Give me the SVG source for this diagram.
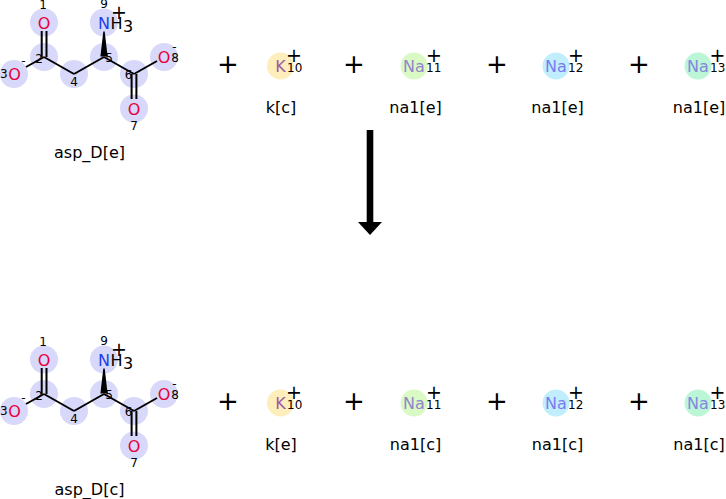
<svg xmlns="http://www.w3.org/2000/svg" width="726" height="499" viewBox="0 0 726 499">
<style>
text{font-family:"DejaVu Sans",Verdana,sans-serif}
.hl{fill:#d8d8fa}
.b{stroke:#000;stroke-width:2;fill:none;stroke-linecap:butt}
.O{fill:#e6003c;font-size:16px;text-anchor:middle}
.N{fill:#2040f0;font-size:16px;text-anchor:middle}
.H{fill:#000;font-size:16px}
.idx{font-size:12px;fill:#000;text-anchor:middle}
.idxs{font-size:12px;fill:#000}
.chg{font-size:19px;text-anchor:middle;fill:#000}
.neg{font-size:12px;text-anchor:middle;fill:#000}
.name{font-size:16px;text-anchor:middle;fill:#000}
.op{font-size:26px;text-anchor:middle;fill:#000}
.ion{font-size:16px;text-anchor:middle}
</style>
<defs>
<g id="asp">
<circle class="hl" cx="44" cy="22.5" r="14"/>
<circle class="hl" cx="44" cy="57" r="14"/>
<circle class="hl" cx="14" cy="74" r="14"/>
<circle class="hl" cx="74" cy="74" r="14"/>
<circle class="hl" cx="104" cy="57" r="14"/>
<circle class="hl" cx="104" cy="22.5" r="14"/>
<circle class="hl" cx="134" cy="74" r="14"/>
<circle class="hl" cx="164" cy="57" r="14"/>
<circle class="hl" cx="134" cy="108.5" r="14"/>
<g class="b">
<line x1="41.7" y1="31" x2="41.7" y2="57"/>
<line x1="46.5" y1="31" x2="46.5" y2="57"/>
<line x1="44" y1="57" x2="26" y2="67"/>
<line x1="44" y1="57" x2="74" y2="74"/>
<line x1="74" y1="74" x2="104" y2="57"/>
<line x1="104" y1="57" x2="134" y2="74"/>
<line x1="134" y1="74" x2="157" y2="61"/>
<line x1="131.6" y1="74" x2="131.6" y2="99"/>
<line x1="136.4" y1="74" x2="136.4" y2="99"/>
</g>
<polygon points="103.3,31.5 104.7,31.5 107.6,56.5 100.4,56.5" fill="#000"/>
<text class="O" x="44" y="28.5">O</text>
<text class="O" x="14.5" y="80">O</text>
<text class="O" x="134" y="114.5">O</text>
<text class="O" x="164" y="63">O</text>
<text class="N" x="104" y="28.5">N</text>
<text class="H" x="110.5" y="28.5">H</text>
<text class="H" x="123" y="31.5">3</text>
<text class="chg" x="119" y="18.5">+</text>
<text class="neg" x="23.5" y="65">-</text>
<text class="neg" x="174.5" y="51">-</text>
<text class="idx" x="43" y="8.5">1</text>
<text class="idx" x="39" y="63">2</text>
<text class="idx" x="3.8" y="77.5">3</text>
<text class="idx" x="74" y="86">4</text>
<text class="idx" x="109" y="61.5">5</text>
<text class="idx" x="128.5" y="79">6</text>
<text class="idx" x="134" y="130">7</text>
<text class="idx" x="175" y="61.5">8</text>
<text class="idx" x="104" y="8">9</text>
</g>
</defs>

<g id="connectors">
<rect x="366.7" y="130" width="6.6" height="93" fill="#000"/>
<polygon points="358,222 382,222 370,235" fill="#000"/>
</g>

<g id="operators">
<text class="op" x="228" y="72.5">+</text>
<text class="op" x="354" y="72.5">+</text>
<text class="op" x="497" y="72.5">+</text>
<text class="op" x="639" y="72.5">+</text>
<text class="op" x="228" y="409.5">+</text>
<text class="op" x="354" y="409.5">+</text>
<text class="op" x="497" y="409.5">+</text>
<text class="op" x="639" y="409.5">+</text>
</g>

<g id="asp_D_e">
<use href="#asp"/>
<text class="name" x="89.5" y="158">asp_D[e]</text>
</g>
<g id="k_c">
<circle cx="280.5" cy="66" r="13.5" fill="#fdeebb"/>
<text class="ion" x="280.5" y="72" fill="#a05aa5">K</text>
<text class="idxs" x="287" y="72">10</text>
<text class="chg" x="294" y="62">+</text>
<text class="name" x="281" y="113">k[c]</text>
</g>
<g id="na1_e_11">
<circle cx="414" cy="66" r="13.5" fill="#d9fac4"/>
<text class="ion" x="414" y="72" fill="#9583cc">Na</text>
<text class="idxs" x="426" y="72">11</text>
<text class="chg" x="434" y="62">+</text>
<text class="name" x="415.5" y="113">na1[e]</text>
</g>
<g id="na1_e_12">
<circle cx="556" cy="66" r="13.5" fill="#c0eefc"/>
<text class="ion" x="556" y="72" fill="#7b7bef">Na</text>
<text class="idxs" x="568" y="72">12</text>
<text class="chg" x="576" y="62">+</text>
<text class="name" x="557.5" y="113">na1[e]</text>
</g>
<g id="na1_e_13">
<circle cx="698" cy="66" r="13.5" fill="#bbf7d7"/>
<text class="ion" x="698" y="72" fill="#8585e0">Na</text>
<text class="idxs" x="710" y="72">13</text>
<text class="chg" x="717.5" y="62">+</text>
<text class="name" x="699" y="113">na1[e]</text>
</g>

<g id="asp_D_c" transform="translate(0,337)">
<use href="#asp"/>
<text class="name" x="89.5" y="158">asp_D[c]</text>
</g>
<g id="k_e" transform="translate(0,337)">
<circle cx="280.5" cy="66" r="13.5" fill="#fdeebb"/>
<text class="ion" x="280.5" y="72" fill="#a05aa5">K</text>
<text class="idxs" x="287" y="72">10</text>
<text class="chg" x="294" y="62">+</text>
<text class="name" x="281" y="113">k[e]</text>
</g>
<g id="na1_c_11" transform="translate(0,337)">
<circle cx="414" cy="66" r="13.5" fill="#d9fac4"/>
<text class="ion" x="414" y="72" fill="#9583cc">Na</text>
<text class="idxs" x="426" y="72">11</text>
<text class="chg" x="434" y="62">+</text>
<text class="name" x="415.5" y="113">na1[c]</text>
</g>
<g id="na1_c_12" transform="translate(0,337)">
<circle cx="556" cy="66" r="13.5" fill="#c0eefc"/>
<text class="ion" x="556" y="72" fill="#7b7bef">Na</text>
<text class="idxs" x="568" y="72">12</text>
<text class="chg" x="576" y="62">+</text>
<text class="name" x="557.5" y="113">na1[c]</text>
</g>
<g id="na1_c_13" transform="translate(0,337)">
<circle cx="698" cy="66" r="13.5" fill="#bbf7d7"/>
<text class="ion" x="698" y="72" fill="#8585e0">Na</text>
<text class="idxs" x="710" y="72">13</text>
<text class="chg" x="717.5" y="62">+</text>
<text class="name" x="699" y="113">na1[c]</text>
</g>
</svg>
